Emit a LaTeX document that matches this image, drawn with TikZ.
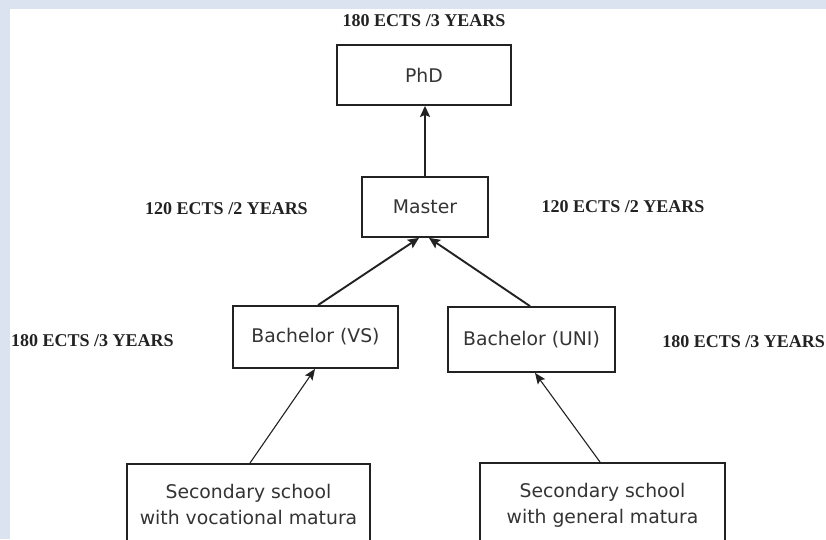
\documentclass[tikz,border=0pt]{standalone}
\usepackage{fontspec}
\setmainfont{Liberation Serif}
\newfontfamily\boxfont{DejaVu Sans}
\usetikzlibrary{arrows.meta}
\definecolor{framebg}{HTML}{DAE3EF}
\definecolor{ink}{HTML}{222222}
\begin{document}
\begin{tikzpicture}[x=1pt,y=-1pt,
  stage/.style={draw=ink, line width=1.8pt, fill=white,
    font=\boxfont\fontsize{18.8}{26}\selectfont, text=ink!92,
    inner sep=0pt, align=center},
  credit/.style={font=\bfseries\fontsize{18}{20}\selectfont, text=ink, inner sep=0pt},
  link/.style={draw=ink, line width=1.9pt, -{Stealth[length=11pt,width=10pt,inset=2pt]}},
  thinlink/.style={draw=ink, line width=1.1pt, -{Stealth[length=11pt,width=9pt,inset=2pt]}}]
  % page frame
  \useasboundingbox (0,0) rectangle (826,539);
  \clip (0,0) rectangle (826,539);
  \fill[framebg] (0,0) rectangle (826,539);
  \fill[white] (10,9) rectangle (826,539);

  % degree boxes
  \node[stage, minimum width=174pt, minimum height=60pt] (phd) at (424,75) {PhD};
  \node[stage, minimum width=126pt, minimum height=60pt] (master) at (425,207) {Master};
  \node[stage, minimum width=165pt, minimum height=62pt] (bvs) at (315.5,337) {Bachelor (VS)};
  \node[stage, minimum width=167pt, minimum height=65pt] (buni) at (531.5,339.5) {Bachelor (UNI)};
  \node[stage, anchor=north, minimum width=243pt, inner ysep=20pt] (svoc) at (248.5,463)
    {Secondary school\\with vocational matura};
  \node[stage, anchor=north, minimum width=245pt, inner ysep=20pt] (sgen) at (602.5,462)
    {Secondary school\\with general matura};

  % credit labels
  \node[credit] (cphd) at (424,21) {180 ECTS /3 YEARS};
  \node[credit] (cml) at (226.5,209) {120 ECTS /2 YEARS};
  \node[credit] (cmr) at (623,207) {120 ECTS /2 YEARS};
  \node[credit, anchor=west] (cbl) at (11,341) {180 ECTS /3 YEARS};
  \node[credit, anchor=east] (cbr) at (825,342) {180 ECTS /3 YEARS};

  % progression arrows
  \draw[link] (master.north) -- (master.north |- phd.south);
  \draw[link] ([xshift=2.5pt]bvs.north) -- ([xshift=-6pt]master.south);
  \draw[link] ([xshift=-1.5pt]buni.north) -- ([xshift=4pt]master.south);
  \draw[thinlink] ([xshift=1.5pt]svoc.north) -- ([xshift=-0.5pt]bvs.south);
  \draw[thinlink] ([xshift=-2.5pt]sgen.north) -- ([xshift=3.5pt]buni.south);
\end{tikzpicture}
\end{document}
